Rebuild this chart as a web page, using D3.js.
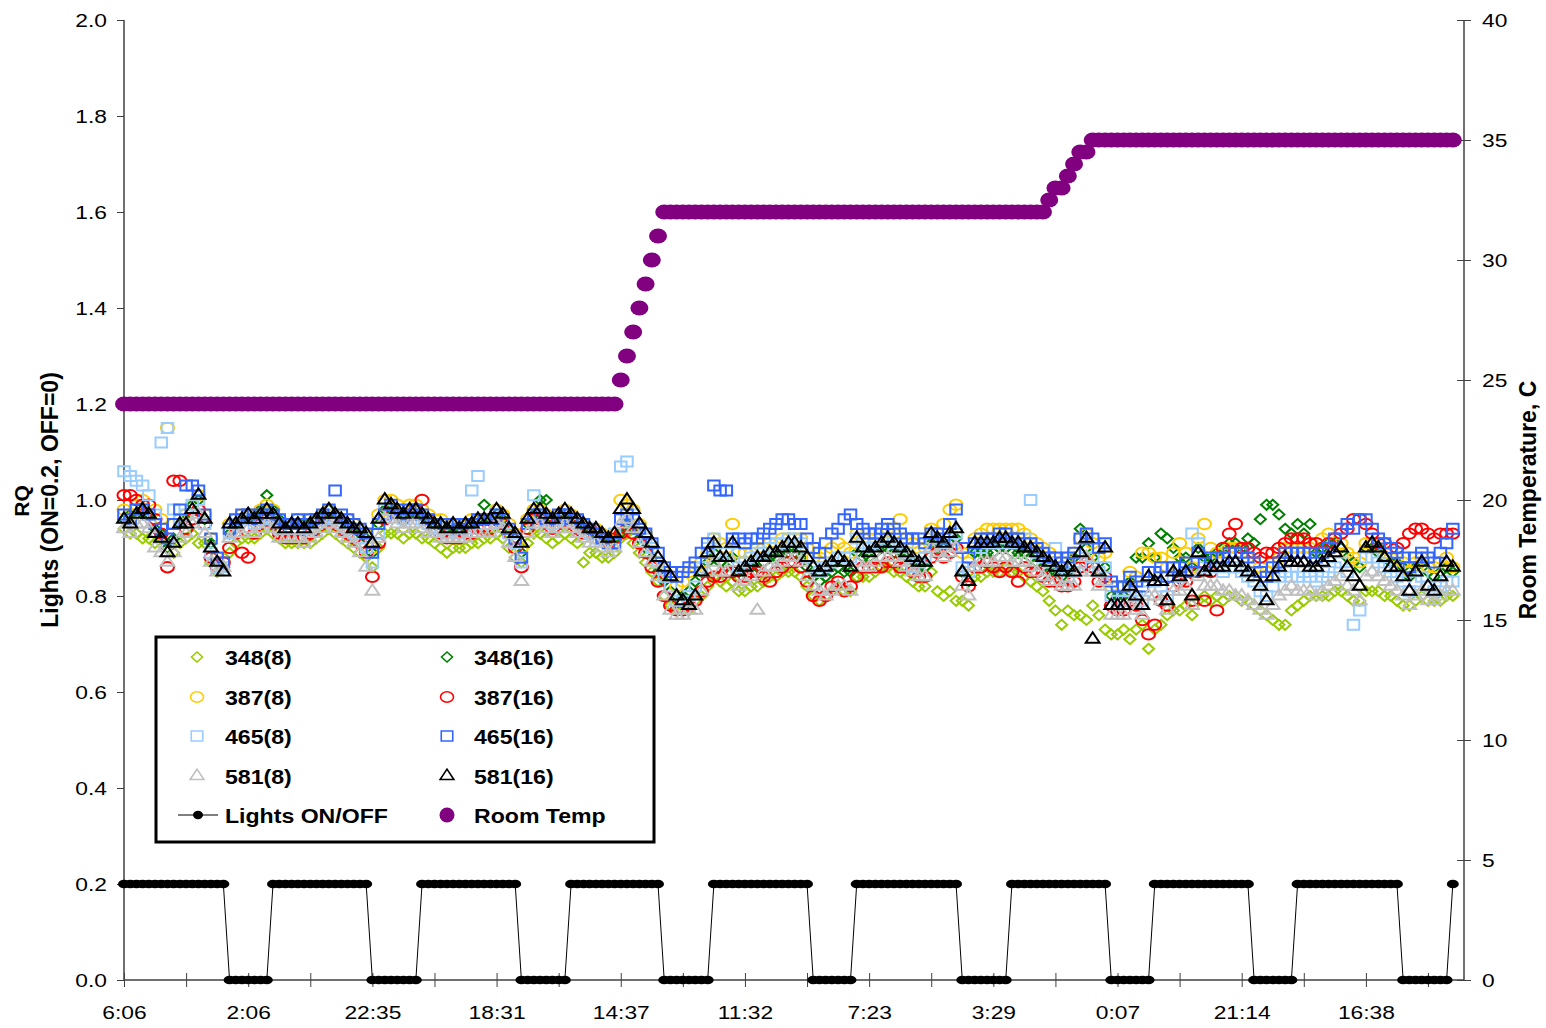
<!DOCTYPE html>
<html>
<head>
<meta charset="utf-8">
<script src="https://cdn.jsdelivr.net/npm/d3@7"></script>
<style>
  body { margin: 0; background: #fff; }
  svg { display: block; font-family: "Liberation Sans", Arial, sans-serif; }
</style>
</head>
<body>
<svg id="chart" width="1546" height="1028"></svg>
<script>
// x axis: sample index (about one per hour), labels every 20 samples
var tickLabels = ["6:06", "2:06", "22:35", "18:31", "14:37", "11:32", "7:23", "3:29", "0:07", "21:14", "16:38"];
var yTicksLeft = [0, 0.2, 0.4, 0.6, 0.8, 1.0, 1.2, 1.4, 1.6, 1.8, 2.0];
var yTicksRight = [0, 5, 10, 15, 20, 25, 30, 35, 40];

// lights per sample, 1 = ON (plotted at 0.2), 0 = OFF
var lights = ("11111111111111111 0000000 1111111111111111 00000000 1111111111111111 00000000 " +
  "111111111111111 00000000 1111111111111111 0000000 11111111111111111 00000000 " +
  "1111111111111111 0000000 1111111111111111 0000000 11111111111111111 00000000 1").replace(/ /g, "");

// room temperature, C, per sample
var roomTemp = [
  24,24,24,24,24,24,24,24,24,24, 24,24,24,24,24,24,24,24,24,24,
  24,24,24,24,24,24,24,24,24,24, 24,24,24,24,24,24,24,24,24,24,
  24,24,24,24,24,24,24,24,24,24, 24,24,24,24,24,24,24,24,24,24,
  24,24,24,24,24,24,24,24,24,24, 24,24,24,24,24,24,24,24,24,24,
  25,26,27,28,29,30,31,
  32,32,32,32,32,32,32,32,32,32, 32,32,32,32,32,32,32,32,32,32,
  32,32,32,32,32,32,32,32,32,32, 32,32,32,32,32,32,32,32,32,32,
  32,32,32,32,32,32,32,32,32,32, 32,32,32,32,32,32,32,32,32,32,
  32,32,
  32.5,33,33,33.5,34,34.5,34.5,
  35,35,35,35,35,35,35,35,35,35, 35,35,35,35,35,35,35,35,35,35,
  35,35,35,35,35,35,35,35,35,35, 35,35,35,35,35,35,35,35,35,35,
  35,35,35,35,35,35,35,35,35,35, 35,35,35,35,35,35,35,35,35
];

// RQ x 100, per sample
var rq348_8 = [
  94,93,93,92,92, 91,92,90,89,91, 92,93,91,91,87, 85,86,89,91,92, 92,92,93,94,93,
  92,91,91,91,91, 91,92,93,94,93, 92,91,90,89,88, 86,90,93,93,93, 92,93,93,92,92,
  91,90,89,90,90, 90,91,91,92,92, 93,92,90,88,87, 91,93,93,92,91, 92,93,92,91,87,
  89,89,88,88,89, 92,93,91,89,87, 85,83,80,78,77, 77,77,79,80,82, 84,83,82,83,81,
  81,82,82,83,84, 84,85,85,85,84, 82,80,79,80,81, 82,81,81,84,84, 84,85,86,86,85,
  85,84,83,82,82, 85,81,80,81,79, 79,78,84,84,85, 85,85,86,85,85, 84,83,82,81,79,
  77,74,77,76,76, 75,78,76,73,72, 72,73,71,73,74, 69,73,74,76,77, 77,78,76,79,80,
  79,80,79,80,80, 79,79,78,77,76, 75,74,74,77,78, 79,80,80,80,80, 81,81,80,79,79,
  81,81,81,80,80, 79,78,78,79,80, 79,79,79,80,80
];
var rq348_16 = [
  96,97,97,98,97, 94,93,90,92,95, 96,99,100,96,91, 87,86,93,95,96, 96,97,98,101,98,
  96,95,95,95,95, 95,96,97,98,97, 96,95,94,93,92, 89,95,98,98,97, 96,97,97,97,96,
  95,95,94,94,94, 94,95,96,99,96, 97,96,94,92,89, 95,97,100,100,96, 96,97,96,95,94,
  94,93,92,91,92, 93,95,94,92,90, 88,85,83,81,80, 80,81,83,85,87, 89,87,86,88,85,
  85,86,86,87,88, 88,89,89,89,88, 86,84,83,84,85, 86,85,85,89,88, 88,89,90,90,89,
  89,88,87,86,86, 91,90,90,91,92, 85,83,89,89,89, 89,90,90,89,89, 89,88,87,86,85,
  85,84,85,88,94, 90,88,85,86,80, 80,80,83,88,88, 91,88,93,92,90, 88,88,86,90,88,
  88,89,90,91,91, 90,92,91,96,99, 99,97,94,93,95, 93,95,89,90,91, 91,90,88,87,86,
  90,90,89,88,87, 87,86,84,86,87, 85,84,85,86,85
];
var rq387_8 = [
  98,97,99,100,99, 98,96,115,95,96, 97,99,101,97,92, 88,87,95,96,97, 97,97,98,99,98,
  96,95,95,96,95, 96,96,97,98,97, 96,96,95,94,93, 90,97,100,100,99, 98,99,99,98,97,
  96,96,95,95,95, 95,96,96,96,96, 98,97,95,93,90, 96,98,98,97,96, 97,98,97,96,95,
  94,94,93,92,93, 100,99,98,95,93, 90,87,85,84,82, 83,85,86,87,89, 92,91,90,95,89,
  89,89,90,90,91, 91,92,92,92,92, 90,88,88,89,90, 91,90,89,93,92, 92,92,93,94,93,
  96,92,91,90,90, 94,93,95,98,99, 89,87,92,93,94, 94,94,94,94,94, 93,92,91,90,89,
  88,87,88,89,92, 93,91,88,89,82, 82,82,85,84,89, 89,88,88,86,89, 91,89,86,92,95,
  90,89,89,90,90, 89,88,87,86,85, 87,88,90,90,90, 90,90,91,92,93, 92,91,89,88,87,
  91,91,90,89,88, 88,87,85,87,88, 86,86,87,88,86
];
var rq387_16 = [
  101,101,100,99,99, 96,93,86,104,104, 94,96,98,95,88, 86,87,90,93,89, 88,93,95,96,95,
  93,92,92,92,92, 93,94,95,96,95, 94,93,92,91,89, 84,91,96,98,97, 96,97,98,100,96,
  94,93,92,92,92, 93,93,94,94,94, 95,95,93,90,86, 94,96,96,95,94, 95,96,95,94,93,
  94,93,92,91,92, 93,94,93,91,89, 86,83,80,78,77, 77,78,79,81,83, 84,84,85,85,84,
  84,85,85,84,83, 85,86,87,87,86, 83,80,79,80,82, 83,81,82,84,86, 86,86,86,87,87,
  86,86,85,84,84, 88,89,88,89,90, 84,82,86,86,87, 86,85,86,85,83, 86,85,85,84,83,
  83,82,82,83,86, 87,86,83,84,78, 77,77,79,78,75, 72,74,79,78,82, 83,83,79,85,79,
  85,77,90,93,95, 90,90,89,88,89, 89,90,91,92,92, 92,91,91,90,91, 92,93,94,96,96,
  95,93,91,91,90, 90,91,93,94,94, 93,92,93,93,93
];
var rq465_8 = [
  106,105,104,103,101, 97,112,115,98,96, 97,99,100,95,89, 86,86,93,95,96, 96,95,96,97,96,
  94,94,94,94,94, 94,95,96,97,96, 95,94,93,92,90, 87,93,98,98,97, 96,97,97,96,95,
  94,94,93,94,93, 94,102,105,95,95, 97,96,93,91,87, 95,101,97,96,95, 96,97,96,95,94,
  93,92,92,91,93, 107,108,97,94,92, 90,87,84,82,79, 79,80,82,86,90, 92,89,89,91,86,
  87,88,89,89,90, 91,91,92,92,91, 88,86,85,86,87, 88,88,88,92,91, 90,91,92,92,91,
  90,89,86,87,88, 92,92,91,92,93, 86,85,90,90,91, 91,91,92,91,91, 92,100,89,88,87,
  90,86,84,85,87, 90,88,85,86,80, 79,79,81,80,79, 83,83,82,80,84, 84,85,93,91,86,
  86,86,85,86,86, 85,84,83,81,80, 82,84,85,84,84, 85,84,83,84,85, 86,87,85,74,77,
  88,88,87,86,85, 84,83,81,83,84, 82,81,82,83,83
];
var rq465_16 = [
  97,96,98,98,97, 95,94,92,95,98, 103,103,102,97,92, 88,87,94,96,97, 97,96,97,98,97,
  96,95,95,96,95, 96,96,97,98,102, 97,96,95,94,93, 89,95,97,99,98, 97,98,98,97,96,
  95,95,95,95,94, 95,95,96,96,96, 97,96,94,92,88, 95,97,97,96,96, 97,97,96,96,95,
  94,93,92,91,91, 96,97,96,94,93, 91,89,86,85,84, 85,86,87,89,91, 103,102,102,92,92,
  91,92,92,93,94, 95,96,96,95,95, 92,90,89,91,93, 94,96,97,95,94, 93,93,94,95,94,
  93,92,92,92,91, 93,93,92,95,98, 90,88,91,92,92, 92,93,93,92,92, 91,91,90,89,88,
  88,87,88,89,92, 93,92,90,91,83, 82,82,84,83,82, 85,85,86,84,86, 86,87,85,89,87,
  88,88,88,89,89, 89,88,87,85,84, 86,87,89,89,89, 89,89,88,89,90, 92,94,95,94,96,
  96,94,92,91,90, 89,88,86,88,89, 88,87,89,91,94
];
var rq581_8 = [
  94,93,95,95,94, 90,89,87,89,92, 93,95,97,93,87, 85,86,92,93,93, 94,93,94,95,94,
  92,92,92,92,91, 92,93,94,95,94, 93,92,91,89,86, 81,92,96,96,95, 94,95,95,94,93,
  93,92,92,92,92, 92,93,93,93,93, 95,94,91,88,83, 93,95,95,94,93, 94,95,94,93,92,
  91,91,90,89,90, 95,96,94,91,89, 87,84,80,77,76, 76,77,77,81,85, 87,85,85,87,82,
  83,84,77,85,86, 86,87,88,88,87, 84,82,81,80,81, 82,82,81,87,86, 86,87,88,88,88,
  87,86,85,84,84, 90,89,88,89,90, 82,80,86,87,87, 87,88,88,87,87, 87,86,85,84,83,
  83,82,82,82,85, 88,85,82,83,76, 76,76,78,77,76, 80,80,79,77,81, 81,82,78,84,82,
  82,82,81,81,80, 80,79,78,77,76, 78,80,81,82,81, 81,81,80,81,82, 83,84,82,81,79,
  84,85,84,83,82, 81,80,78,80,81, 79,79,80,81,81
];
var rq581_16 = [
  96,95,97,98,97, 93,92,89,91,95, 95,98,101,96,90, 87,85,95,95,96, 97,96,97,98,97,
  95,94,95,95,94, 95,96,97,98,97, 96,95,94,94,93, 91,96,100,99,98, 97,98,98,97,96,
  95,95,94,95,94, 95,95,96,96,96, 98,97,94,93,91, 96,98,98,97,96, 97,98,97,96,95,
  94,94,93,92,93, 98,100,98,95,93, 91,88,86,84,80, 79,78,80,85,89, 91,88,88,91,85,
  86,87,88,88,89, 89,90,91,91,90, 88,86,85,86,87, 88,87,86,92,90, 89,90,91,92,91,
  90,89,88,87,87, 93,92,91,93,94, 85,83,91,91,91, 91,92,92,91,91, 90,90,89,88,87,
  86,85,86,85,89, 92,71,85,90,78, 78,78,82,80,78, 84,83,83,79,85, 84,85,80,89,85,
  86,86,86,87,87, 86,85,84,82,79, 84,86,88,87,87, 87,86,86,87,88, 89,90,86,84,82,
  90,91,90,88,86, 86,84,81,85,87, 82,81,84,87,86
];

var series = [
  {name: "348(8)",  data: rq348_8,  shape: "diamond",  color: "#99cc00"},
  {name: "348(16)", data: rq348_16, shape: "diamond",  color: "#008000"},
  {name: "387(8)",  data: rq387_8,  shape: "circle",   color: "#ffcc00"},
  {name: "387(16)", data: rq387_16, shape: "circle",   color: "#ff0000"},
  {name: "465(8)",  data: rq465_8,  shape: "square",   color: "#99ccff"},
  {name: "465(16)", data: rq465_16, shape: "square",   color: "#3366ff"},
  {name: "581(8)",  data: rq581_8,  shape: "triangle", color: "#c0c0c0"},
  {name: "581(16)", data: rq581_16, shape: "triangle", color: "#000000"}
];

var svg = d3.select("#chart");

var x = d3.scaleLinear().domain([0, 215.8]).range([124, 1464]);
var yL = d3.scaleLinear().domain([0, 2]).range([980, 20]);
var yR = d3.scaleLinear().domain([0, 40]).range([980, 20]);

// markers are a little wider than tall in the picture
var symbols = {
  diamond:  {path: d3.symbol().type(d3.symbolSquare).size(50)(),   sx: 1.1,  rot: 45},
  circle:   {path: d3.symbol().type(d3.symbolCircle).size(85)(),   sx: 1.25, rot: 0},
  square:   {path: d3.symbol().type(d3.symbolSquare).size(100)(),  sx: 1.15, rot: 0},
  triangle: {path: d3.symbol().type(d3.symbolTriangle).size(62)(), sx: 1.15, rot: 0}
};
function markerTransform(shape, px, py) {
  var m = symbols[shape];
  return "translate(" + px + "," + py + ") scale(" + m.sx + ",1)" + (m.rot ? " rotate(" + m.rot + ")" : "");
}

// axes
var axisColor = "#404040";

var gLeft = svg.append("g")
    .attr("transform", "translate(124,0)")
    .call(d3.axisLeft(yL).tickValues(yTicksLeft).tickFormat(d3.format(".1f")).tickSize(7).tickSizeOuter(0).tickPadding(10));

var gRight = svg.append("g")
    .attr("transform", "translate(1464,0)")
    .call(d3.axisRight(yR).tickValues(yTicksRight).tickSize(7).tickSizeOuter(0).tickPadding(11));
gRight.selectAll(".tick line").attr("x1", -7);

var gBottom = svg.append("g")
    .attr("transform", "translate(0,980)")
    .call(d3.axisBottom(x)
      .tickValues(d3.range(0, 211, 10))
      .tickFormat(function(d, i) { return i % 2 ? "" : tickLabels[i / 2]; })
      .tickSize(7).tickSizeOuter(0).tickPadding(19));
gBottom.selectAll(".tick line").attr("y1", -7);

[gLeft, gRight, gBottom].forEach(function(g) {
  g.select(".domain").attr("stroke", axisColor).attr("stroke-width", 1.5);
  g.selectAll(".tick line").attr("stroke", axisColor).attr("stroke-width", 1);
  g.selectAll("text").attr("font-size", 19).attr("fill", "#000")
    .attr("font-family", "'Liberation Sans', Arial, sans-serif")
    .each(function() {
      var t = d3.select(this), tx = +t.attr("x") || 0;
      t.attr("x", 0).attr("transform", "translate(" + tx + ",0) scale(1.2,1)");
    });
});
gLeft.select(".domain").attr("d", "M0,20V980");
gRight.select(".domain").attr("d", "M0,20V980");
gBottom.select(".domain").attr("d", "M124,0H1464");

// axis titles
svg.append("text")
    .attr("transform", "translate(29,501) rotate(-90)")
    .attr("text-anchor", "middle")
    .attr("font-size", 21).attr("font-weight", "bold")
    .text("RQ");
svg.append("text")
    .attr("transform", "translate(58,500) rotate(-90)")
    .attr("text-anchor", "middle")
    .attr("font-size", 23).attr("font-weight", "bold")
    .text("Lights (ON=0.2, OFF=0)");
svg.append("text")
    .attr("transform", "translate(1536,500) rotate(-90)")
    .attr("text-anchor", "middle")
    .attr("font-size", 23).attr("font-weight", "bold")
    .text("Room Temperature, C");

// RQ scatter series
var plot = svg.append("g");
series.forEach(function(s) {
  plot.append("g")
      .selectAll("path")
      .data(s.data)
      .enter().append("path")
      .attr("d", symbols[s.shape].path)
      .attr("transform", function(d, i) { return markerTransform(s.shape, x(i), yL(d / 100)); })
      .attr("fill", "none")
      .attr("stroke", s.color)
      .attr("stroke-width", 2)
      .attr("vector-effect", "non-scaling-stroke");
});

// lights
var lightVals = lights.split("").map(function(c) { return +c * 0.2; });
plot.append("path")
    .datum(lightVals)
    .attr("fill", "none")
    .attr("stroke", "#000")
    .attr("stroke-width", 1)
    .attr("d", d3.line().x(function(d, i) { return x(i); }).y(function(d) { return yL(d); }));
plot.append("g")
    .selectAll("ellipse")
    .data(lightVals)
    .enter().append("ellipse")
    .attr("cx", function(d, i) { return x(i); })
    .attr("cy", function(d) { return yL(d); })
    .attr("rx", 6)
    .attr("ry", 4.3)
    .attr("fill", "#000");

// room temperature
plot.append("g")
    .selectAll("ellipse")
    .data(roomTemp)
    .enter().append("ellipse")
    .attr("cx", function(d, i) { return x(i); })
    .attr("cy", function(d) { return yR(d); })
    .attr("rx", 9)
    .attr("ry", 7.5)
    .attr("fill", "#800080");

// legend
var legend = svg.append("g");
legend.append("rect")
    .attr("x", 156).attr("y", 637)
    .attr("width", 498).attr("height", 205)
    .attr("fill", "#fff").attr("stroke", "#000").attr("stroke-width", 3);

function legendText(tx, ty, label) {
  legend.append("text")
      .attr("transform", "translate(" + tx + "," + ty + ") scale(1.1,1)")
      .attr("dy", "0.36em")
      .attr("font-size", 21).attr("font-weight", "bold")
      .text(label);
}

var rowsY = [657, 697, 736, 776, 815];
series.forEach(function(s, i) {
  var col = i % 2, row = Math.floor(i / 2);
  var mx = col ? 447 : 197, tx = col ? 474 : 225, yy = rowsY[row];
  legend.append("path")
      .attr("d", symbols[s.shape].path)
      .attr("transform", markerTransform(s.shape, mx, yy))
      .attr("fill", "none").attr("stroke", s.color).attr("stroke-width", 1.6)
      .attr("vector-effect", "non-scaling-stroke");
  legendText(tx, yy, s.name);
});
legend.append("line")
    .attr("x1", 178).attr("x2", 218).attr("y1", 815).attr("y2", 815)
    .attr("stroke", "#000").attr("stroke-width", 1);
legend.append("ellipse").attr("cx", 198).attr("cy", 815).attr("rx", 5).attr("ry", 4.2).attr("fill", "#000");
legendText(225, 815, "Lights ON/OFF");
legend.append("circle").attr("cx", 447).attr("cy", 815).attr("r", 7.5).attr("fill", "#800080");
legendText(474, 815, "Room Temp");
</script>
</body>
</html>
